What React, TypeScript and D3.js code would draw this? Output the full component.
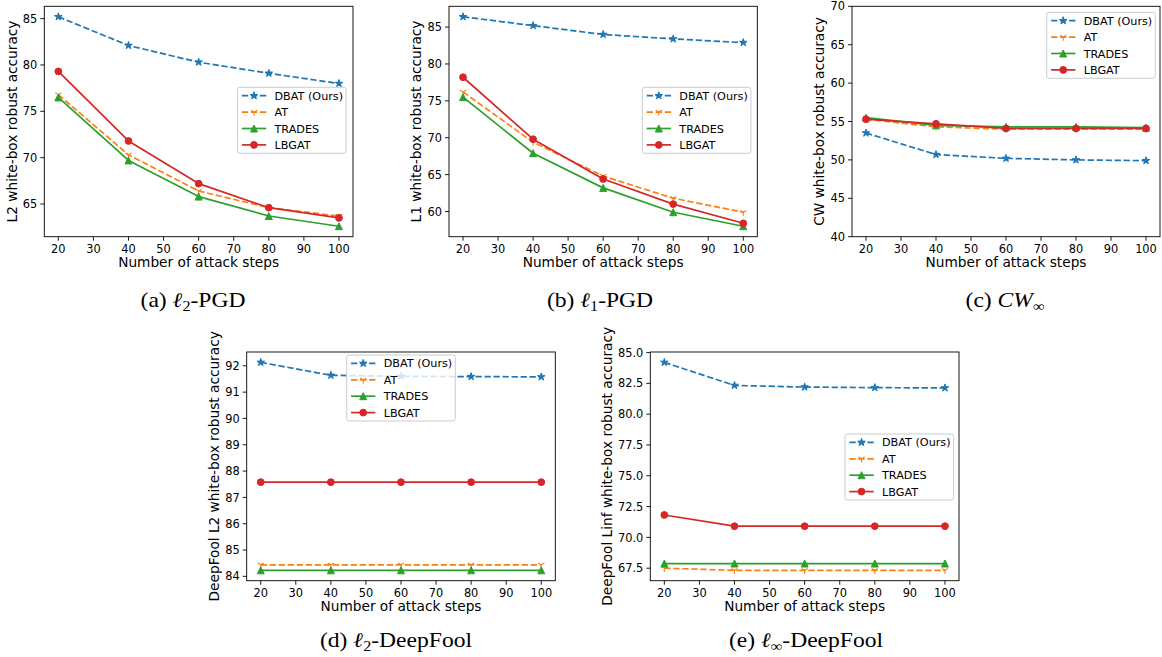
import React from "react";
import * as d3 from "d3";

// ---------- data ----------
const steps = [20, 40, 60, 80, 100];
const xTicks = [20, 30, 40, 50, 60, 70, 80, 90, 100];
const methodNames = ["DBAT (Ours)", "AT", "TRADES", "LBGAT"];
const methodColors = ["#1f77b4", "#ff7f0e", "#2ca02c", "#d62728"];
const methodMarkers = ["star", "tri_down", "triangle", "circle"];
const methodDashed = [true, true, false, false];

// (a) l2-PGD
const l2pgdDBAT = [85.2, 82.1, 80.3, 79.1, 78.0];
const l2pgdAT = [76.8, 70.3, 66.4, 64.6, 63.7];
const l2pgdTRADES = [76.5, 69.7, 65.8, 63.7, 62.6];
const l2pgdLBGAT = [79.3, 71.8, 67.2, 64.6, 63.5];
// (b) l1-PGD
const l1pgdDBAT = [86.4, 85.2, 84.0, 83.4, 82.9];
const l1pgdAT = [76.2, 69.4, 64.8, 61.8, 59.9];
const l1pgdTRADES = [75.5, 67.9, 63.2, 59.9, 58.0];
const l1pgdLBGAT = [78.2, 69.8, 64.4, 61.0, 58.4];
// (c) CW-inf
const cwDBAT = [53.5, 50.7, 50.2, 50.0, 49.9];
const cwAT = [55.3, 54.3, 54.0, 54.0, 54.0];
const cwTRADES = [55.5, 54.5, 54.3, 54.3, 54.2];
const cwLBGAT = [55.3, 54.7, 54.1, 54.1, 54.1];
// (d) l2-DeepFool
const dfL2DBAT = [92.13, 91.64, 91.6, 91.59, 91.58];
const dfL2AT = [84.44, 84.44, 84.44, 84.44, 84.44];
const dfL2TRADES = [84.23, 84.23, 84.23, 84.23, 84.23];
const dfL2LBGAT = [87.58, 87.58, 87.58, 87.58, 87.58];
// (e) linf-DeepFool
const dfLinfDBAT = [84.2, 82.33, 82.2, 82.15, 82.13];
const dfLinfAT = [67.5, 67.33, 67.33, 67.33, 67.33];
const dfLinfTRADES = [67.88, 67.88, 67.88, 67.88, 67.88];
const dfLinfLBGAT = [71.82, 70.91, 70.91, 70.91, 70.91];

const yTicksA = [65, 70, 75, 80, 85];
const yTicksB = [60, 65, 70, 75, 80, 85];
const yTicksC = [40, 45, 50, 55, 60, 65, 70];
const yTicksD = [84, 85, 86, 87, 88, 89, 90, 91, 92];
const yTicksE = [67.5, 70, 72.5, 75, 77.5, 80, 82.5, 85];

const panels = [
  { key: "a", series: [l2pgdDBAT, l2pgdAT, l2pgdTRADES, l2pgdLBGAT], yLabel: "L2 white-box robust accuracy", yTicks: yTicksA, yFmt: "d", fixedY: null, cap: ["(a) ", "ℓ", "2", "-PGD"] },
  { key: "b", series: [l1pgdDBAT, l1pgdAT, l1pgdTRADES, l1pgdLBGAT], yLabel: "L1 white-box robust accuracy", yTicks: yTicksB, yFmt: "d", fixedY: null, cap: ["(b) ", "ℓ", "1", "-PGD"] },
  { key: "c", series: [cwDBAT, cwAT, cwTRADES, cwLBGAT], yLabel: "CW white-box robust accuracy", yTicks: yTicksC, yFmt: "d", fixedY: [40, 70], cap: ["(c) ", "CW", "∞", ""] },
  { key: "d", series: [dfL2DBAT, dfL2AT, dfL2TRADES, dfL2LBGAT], yLabel: "DeepFool L2 white-box robust accuracy", yTicks: yTicksD, yFmt: "d", fixedY: null, cap: ["(d) ", "ℓ", "2", "-DeepFool"] },
  { key: "e", series: [dfLinfDBAT, dfLinfAT, dfLinfTRADES, dfLinfLBGAT], yLabel: "DeepFool Linf white-box robust accuracy", yTicks: yTicksE, yFmt: ".1f", fixedY: null, cap: ["(e) ", "ℓ", "∞", "-DeepFool"] },
];

// ---------- layout ----------
const layout: Record<string, any> = {
  a: { x0: 44.3, x1: 353, y0: 6.3, y1: 236.7, lx: 237.5, ly: 87.3, ylOff: 27.8, cx: 193, cy: 306.5 },
  b: { x0: 449, x1: 757.3, y0: 6.3, y1: 236.7, lx: 642.3, ly: 87.3, ylOff: 27.8, cx: 600, cy: 306.5 },
  c: { x0: 852, x1: 1160, y0: 6.3, y1: 236.7, lx: 1046.7, ly: 12.3, ylOff: 27.8, cx: 1005, cy: 306.5 },
  d: { x0: 246.7, x1: 555.3, y0: 352, y1: 580.7, lx: 346.7, ly: 355, ylOff: 28.2, cx: 396, cy: 647 },
  e: { x0: 650.3, x1: 959, y0: 352, y1: 580.7, lx: 845, ly: 434, ylOff: 38.6, cx: 806, cy: 647 },
};

const FONT = "DejaVu Sans, Verdana, sans-serif";
const SERIF = "Liberation Serif, Times New Roman, serif";
const TICK_FS = 11.4;
const LABEL_FS = 13.7;
const LEG_FS = 11.2;
const LW = 1.7;
const DASH = "6.3,2.7";

function markerEl(type: string, x: number, y: number, color: string, k: string) {
  if (type === "circle") {
    return <circle key={k} cx={x} cy={y} r={3.4} fill={color} stroke={color} strokeWidth={1} />;
  }
  if (type === "triangle") {
    const r = 3.5;
    return <path key={k} d={`M${x},${y - r}L${x - r},${y + r}L${x + r},${y + r}Z`} fill={color} stroke={color} strokeWidth={1} />;
  }
  if (type === "star") {
    const R = 4, ri = R * 0.382;
    const pts: string[] = [];
    for (let i = 0; i < 10; i++) {
      const a = -Math.PI / 2 + (i * Math.PI) / 5;
      const rr = i % 2 === 0 ? R : ri;
      pts.push(`${x + rr * Math.cos(a)},${y + rr * Math.sin(a)}`);
    }
    return <path key={k} d={`M${pts.join("L")}Z`} fill={color} stroke={color} strokeWidth={1} strokeLinejoin="miter" />;
  }
  // tri_down
  const r = 3.6;
  return (
    <path key={k} d={`M${x},${y}L${x},${y + r}M${x},${y}L${x - 0.866 * r},${y - 0.5 * r}M${x},${y}L${x + 0.866 * r},${y - 0.5 * r}`}
      stroke={color} strokeWidth={1.1} fill="none" />
  );
}

function Panel({ p }: { p: any }) {
  const L = layout[p.key];
  const x = d3.scaleLinear().domain([16, 104]).range([L.x0, L.x1]);
  let yDom: number[];
  if (p.fixedY) yDom = p.fixedY;
  else {
    const all = p.series.flat();
    const [mn, mx] = d3.extent(all) as [number, number];
    const pad = (mx - mn) * 0.05;
    yDom = [mn - pad, mx + pad];
  }
  const y = d3.scaleLinear().domain(yDom).range([L.y1, L.y0]);
  const fmt = d3.format(p.yFmt);
  const line = d3.line<number>().x((_, i) => x(steps[i])).y((v) => y(v));
  const ym = (L.y0 + L.y1) / 2;
  const xm = (L.x0 + L.x1) / 2;
  const clipId = `clip-${p.key}`;
  const rowH = 16.4;
  const legW = 108.6;
  const legH = 8.4 * 2 + rowH * 3;

  return (
    <g>
      <defs>
        <clipPath id={clipId}>
          <rect x={L.x0 - 5} y={L.y0 - 5} width={L.x1 - L.x0 + 10} height={L.y1 - L.y0 + 10} />
        </clipPath>
      </defs>
      {/* series */}
      <g clipPath={`url(#${clipId})`}>
        {p.series.map((s: number[], si: number) => (
          <g key={si}>
            <path d={line(s) || ""} fill="none" stroke={methodColors[si]} strokeWidth={LW}
              strokeDasharray={methodDashed[si] ? DASH : undefined} strokeLinejoin="round" />
            {s.map((v, i) => markerEl(methodMarkers[si], x(steps[i]), y(v), methodColors[si], `m${si}-${i}`))}
          </g>
        ))}
      </g>
      {/* frame */}
      <rect x={L.x0} y={L.y0} width={L.x1 - L.x0} height={L.y1 - L.y0} fill="none" stroke="#000" strokeWidth={0.9} />
      {/* x ticks */}
      {xTicks.map((t) => (
        <g key={`xt${t}`}>
          <line x1={x(t)} x2={x(t)} y1={L.y1} y2={L.y1 + 4} stroke="#000" strokeWidth={0.9} />
          <text x={x(t)} y={L.y1 + 7.5} dy="0.74em" textAnchor="middle" fontSize={TICK_FS} fontFamily={FONT} fill="#000">{t}</text>
        </g>
      ))}
      {/* y ticks */}
      {p.yTicks.map((t: number) => (
        <g key={`yt${t}`}>
          <line x1={L.x0 - 4} x2={L.x0} y1={y(t)} y2={y(t)} stroke="#000" strokeWidth={0.9} />
          <text x={L.x0 - 7} y={y(t)} dy="0.36em" textAnchor="end" fontSize={TICK_FS} fontFamily={FONT} fill="#000">{fmt(t)}</text>
        </g>
      ))}
      {/* axis labels */}
      <text x={xm} y={L.y1 + 30.5} textAnchor="middle" fontSize={LABEL_FS} fontFamily={FONT} fill="#000">Number of attack steps</text>
      <text transform={`translate(${L.x0 - L.ylOff},${ym}) rotate(-90)`} textAnchor="middle" fontSize={LABEL_FS} fontFamily={FONT} fill="#000">{p.yLabel}</text>
      {/* legend */}
      <g>
        <rect x={L.lx} y={L.ly} width={legW} height={legH} rx={2.5} fill="#fff" fillOpacity={0.8} stroke="#cccccc" strokeWidth={1} />
        {methodNames.map((name, i) => {
          const cy = L.ly + 8.4 + i * rowH;
          return (
            <g key={name}>
              <line x1={L.lx + 4.4} x2={L.lx + 28.7} y1={cy} y2={cy} stroke={methodColors[i]} strokeWidth={LW}
                strokeDasharray={methodDashed[i] ? DASH : undefined} />
              {markerEl(methodMarkers[i], L.lx + 16.5, cy, methodColors[i], `lm${i}`)}
              <text x={L.lx + 37} y={cy} dy="0.36em" fontSize={LEG_FS} fontFamily={FONT} fill="#000">{name}</text>
            </g>
          );
        })}
      </g>
      {/* caption */}
      <text transform={`translate(${L.cx},${L.cy}) scale(1.15,1)`} x={0} y={0} textAnchor="middle" fontSize={20.5} fontFamily={SERIF} fill="#000">
        <tspan>{p.cap[0]}</tspan>
        <tspan fontStyle="italic">{p.cap[1]}</tspan>
        <tspan dy={4} fontSize={14}>{p.cap[2]}</tspan>
        <tspan dy={-4}>{p.cap[3]}</tspan>
      </text>
    </g>
  );
}

export default function App() {
  return (
    <svg width={1162} height={657} viewBox="0 0 1162 657" style={{ position: "absolute", left: 0, top: 0, background: "#fff" }}>
      <rect width={1162} height={657} fill="#fff" />
      {panels.map((p) => (
        <Panel key={p.key} p={p} />
      ))}
    </svg>
  );
}
